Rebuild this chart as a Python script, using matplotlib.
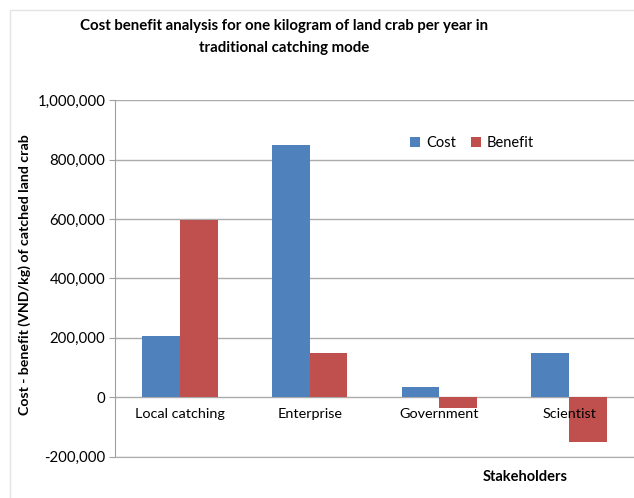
import matplotlib.pyplot as plt
import numpy as np
from matplotlib.patches import Rectangle

# data
categories = ['Local catching', 'Enterprise', 'Government', 'Scientist']
cost = [205000, 850000, 35000, 150000]
benefit = [595000, 150000, -35000, -150000]
y_ticks = [-200000, 0, 200000, 400000, 600000, 800000, 1000000]

plt.rcParams['font.family'] = ['Lato', 'DejaVu Sans']

fig = plt.figure(figsize=(6.34, 4.98), dpi=100)
ax = fig.add_axes([0.1814, 0.083, 0.8186, 0.716])

# chart area border like Excel
fig.patches.append(Rectangle((10 / 634, -0.1), 1.2, 1.08, transform=fig.transFigure,
                             fill=False, edgecolor='#e4e4e4', linewidth=1))

x = np.arange(len(categories))
w = 0.29
ax.bar(x - w / 2, cost, width=w, color='#4F81BD', label='Cost', zorder=3)
ax.bar(x + w / 2, benefit, width=w, color='#C0504D', label='Benefit', zorder=3)

ax.set_xlim(-0.5, len(categories) - 0.5)
ax.set_ylim(-200000, 1000000)
ax.set_yticks(y_ticks)
ax.set_yticklabels(['{:,}'.format(v) for v in y_ticks], fontsize=10.8)
ax.tick_params(axis='y', length=4, color='#a0a0a0', pad=3)
ax.set_xticks([])
ax.grid(axis='y', color='#ababab', linewidth=1, zorder=0)

for s in ['top', 'right']:
    ax.spines[s].set_visible(False)
ax.spines['left'].set_color('#a0a0a0')
ax.spines['bottom'].set_color('#ababab')

# category labels sit just under the zero line
for i, c in enumerate(categories):
    ax.annotate(c, (i, 0), xytext=(0, -8), textcoords='offset points',
                ha='center', va='top', fontsize=10.4)

fig.text(25 / 634, 1 - 275 / 498, 'Cost - benefit (VND/kg) of catched land crab',
         rotation=90, ha='center', va='center', fontsize=10.2, fontweight='bold')
fig.text(525 / 634, 1 - 477 / 498, 'Stakeholders', ha='center', va='center',
         fontsize=10.5, fontweight='bold')
fig.text(284 / 634, 1 - 37 / 498,
         'Cost benefit analysis for one kilogram of land crab per year in\ntraditional catching mode',
         ha='center', va='center', fontsize=10.8, fontweight='bold', linespacing=1.75)

ax.legend(loc='center', bbox_to_anchor=(472 / 634, 1 - 143 / 498),
          bbox_transform=fig.transFigure, ncol=2, frameon=False, fontsize=10.5,
          handlelength=0.7, handleheight=0.7, handletextpad=0.4, columnspacing=1.0)

fig.savefig('out.png', dpi=100)
